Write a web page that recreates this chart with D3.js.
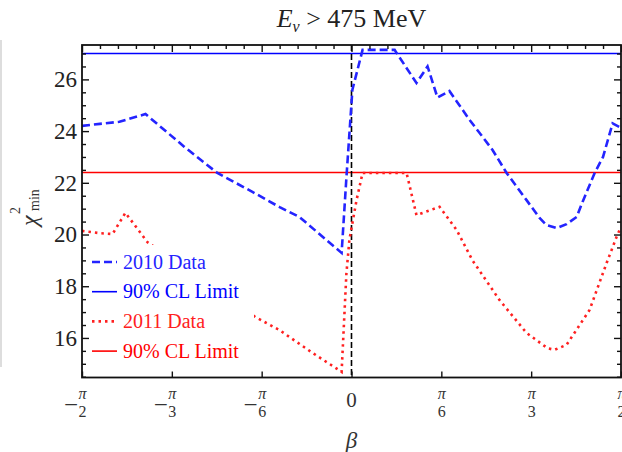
<!DOCTYPE html>
<html>
<head>
<meta charset="utf-8">
<script src="https://cdn.jsdelivr.net/npm/d3@7"></script>
<style>
  body { margin: 0; background: #fff; }
  svg { display: block; }
  text { font-family: "Liberation Serif", "DejaVu Serif", serif; }
</style>
</head>
<body>
<svg id="chart" width="622" height="452"></svg>
<script>
const beta2010 = [-90, -84, -77.5, -68.8, -55.8, -44.8, -33.1, -24.0, -17.4, -3.3, -1.7, -0.7, 0.3, 3.7, 14.4,
  21.7, 25.4, 28.7, 32.7, 39.4, 47.1, 51.8, 58.4, 62.8, 65.1, 68.5, 71.8, 75.2, 77.3, 81.2, 84.0, 87.2, 89.5, 90];
const chi2010 = [24.2, 24.28, 24.36, 24.66, 23.39, 22.38, 21.65, 21.06, 20.68, 19.29, 22.2, 23.9, 25.6, 27.14, 27.14,
  25.86, 26.5, 25.3, 25.55, 24.44, 23.27, 22.38, 21.34, 20.64, 20.37, 20.25, 20.4, 20.68, 21.3, 22.38, 23.0, 24.3, 24.16, 24.16];

const beta2011 = [-90, -84, -79.8, -75.5, -68.1, -32.1, -24.0, -13.0, -3.3, -1.7, -0.7, 1.7, 3.7, 18.4,
  21.7, 29.4, 32.7, 35.1, 40.4, 49.4, 58.4, 65.5, 67.8, 71.8, 79.5, 85.2, 88.5, 90];
const chi2011 = [20.14, 20.05, 20.02, 20.84, 19.7, 16.81, 16.3, 15.42, 14.69, 18.5, 19.8, 21.34, 22.38, 22.38,
  20.75, 21.07, 20.56, 20.18, 19.0, 17.47, 16.2, 15.6, 15.54, 15.73, 17.08, 18.9, 19.9, 20.3];

const cl2010 = 27.0;
const cl2011 = 22.4;

const yMajor = [16, 18, 20, 22, 24, 26];
const xMajor = [-90, -60, -30, 0, 30, 60, 90];
const xDenom = {30: '6', 60: '3', 90: '2'};

const legendItems = [
  {label: '2010 Data', color: '#2424ff', dash: '8,4', width: 2.6},
  {label: '90% CL Limit', color: '#0000ff', dash: null, width: 1.6},
  {label: '2011 Data', color: '#ff2020', dash: '2.5,4', width: 2.6},
  {label: '90% CL Limit', color: '#ff0000', dash: null, width: 1.6}
];

const svg = d3.select('#chart');
const x = d3.scaleLinear().domain([-90, 90]).range([82, 621]);
const y = d3.scaleLinear().domain([14.47, 27.33]).range([377.5, 45]);

// remnant of the neighbouring panel at the left edge
svg.append('line').attr('x1', 1).attr('x2', 1).attr('y1', 40).attr('y2', 367)
  .attr('stroke', '#bbb').attr('stroke-width', 1);

svg.append('clipPath').attr('id', 'plotclip').append('rect')
  .attr('x', x(-90)).attr('y', y(27.33)).attr('width', x(90) - x(-90)).attr('height', y(14.47) - y(27.33));

const plot = svg.append('g').attr('clip-path', 'url(#plotclip)');

// CL limits
plot.append('line').attr('x1', x(-90)).attr('x2', x(90)).attr('y1', y(cl2010)).attr('y2', y(cl2010))
  .attr('stroke', '#0000ff').attr('stroke-width', 1.6);
plot.append('line').attr('x1', x(-90)).attr('x2', x(90)).attr('y1', y(cl2011)).attr('y2', y(cl2011))
  .attr('stroke', '#ff0000').attr('stroke-width', 1.6);

// beta = 0 marker
plot.append('line').attr('x1', x(0)).attr('x2', x(0)).attr('y1', y(27.33)).attr('y2', y(14.47))
  .attr('stroke', '#000').attr('stroke-width', 1.6).attr('stroke-dasharray', '6,3');

const line = d3.line().x(d => x(d[0])).y(d => y(d[1]));

plot.append('path')
  .datum(d3.zip(beta2011, chi2011))
  .attr('d', line)
  .attr('fill', 'none').attr('stroke', '#ff2020').attr('stroke-width', 2.6)
  .attr('stroke-dasharray', '2.5,4');

plot.append('path')
  .datum(d3.zip(beta2010, chi2010))
  .attr('d', line)
  .attr('fill', 'none').attr('stroke', '#2424ff').attr('stroke-width', 2.6)
  .attr('stroke-dasharray', '8,4');

// legend (opaque)
const lg = svg.append('g');
lg.append('rect').attr('x', 86).attr('y', 245).attr('width', 168).attr('height', 122).attr('fill', '#fff');
legendItems.forEach((it, i) => {
  const yy = 262 + i * 29.7;
  lg.append('line').attr('x1', 92).attr('x2', 117).attr('y1', yy).attr('y2', yy)
    .attr('stroke', it.color).attr('stroke-width', it.width)
    .attr('stroke-dasharray', it.dash);
  lg.append('text').attr('x', 123).attr('y', yy + 6.5).attr('fill', it.color)
    .attr('font-size', 20).text(it.label);
});

// frame
svg.append('rect')
  .attr('x', x(-90)).attr('y', y(27.33)).attr('width', x(90) - x(-90)).attr('height', y(14.47) - y(27.33))
  .attr('fill', 'none').attr('stroke', '#111').attr('stroke-width', 1.8);

const yMinor = d3.range(14.5, 27.3, 0.5).filter(v => !yMajor.includes(v));
const xMinor = d3.range(-90, 91, 6).filter(v => !xMajor.includes(v));

function styleAxis(g) {
  g.select('.domain').remove();
  g.selectAll('line').attr('stroke', '#111').attr('stroke-width', 1.4);
}

// left axis with labels
svg.append('g').attr('transform', `translate(${x(-90)},0)`)
  .call(d3.axisLeft(y).tickValues(yMajor).tickSizeInner(-7).tickSizeOuter(0).tickPadding(5).tickFormat(d3.format('d')))
  .call(styleAxis)
  .call(g => g.selectAll('text').attr('font-size', 23).attr('fill', '#222')
    .attr('font-family', '"Liberation Serif", serif'));
svg.append('g').attr('transform', `translate(${x(-90)},0)`)
  .call(d3.axisLeft(y).tickValues(yMinor).tickSizeInner(-4).tickSizeOuter(0).tickFormat(''))
  .call(styleAxis);

// right axis
svg.append('g').attr('transform', `translate(${x(90)},0)`)
  .call(d3.axisRight(y).tickValues(yMajor).tickSizeInner(-7).tickSizeOuter(0).tickFormat(''))
  .call(styleAxis);
svg.append('g').attr('transform', `translate(${x(90)},0)`)
  .call(d3.axisRight(y).tickValues(yMinor).tickSizeInner(-4).tickSizeOuter(0).tickFormat(''))
  .call(styleAxis);

// bottom axis: majors only
svg.append('g').attr('transform', `translate(0,${y(14.47)})`)
  .call(d3.axisBottom(x).tickValues(xMajor).tickSizeInner(-6).tickSizeOuter(0).tickFormat(''))
  .call(styleAxis);

// top axis
svg.append('g').attr('transform', `translate(0,${y(27.33)})`)
  .call(d3.axisTop(x).tickValues(xMajor).tickSizeInner(-7).tickSizeOuter(0).tickFormat(''))
  .call(styleAxis);
svg.append('g').attr('transform', `translate(0,${y(27.33)})`)
  .call(d3.axisTop(x).tickValues(xMinor).tickSizeInner(-4).tickSizeOuter(0).tickFormat(''))
  .call(styleAxis);

// x tick labels as fractions of pi
const xl = svg.append('g').attr('fill', '#333');
xMajor.forEach(b => {
  const px = x(b);
  if (b === 0) {
    xl.append('text').attr('x', px).attr('y', 407).attr('text-anchor', 'middle')
      .attr('font-size', 21).text('0');
    return;
  }
  xl.append('text').attr('x', px + 0.5).attr('y', 399).attr('text-anchor', 'middle')
    .attr('font-size', 16).attr('font-style', 'italic').text('π');
  xl.append('text').attr('x', px + 0.5).attr('y', 417).attr('text-anchor', 'middle')
    .attr('font-size', 16).text(xDenom[Math.abs(b)]);
  if (b < 0) {
    xl.append('text').attr('x', px - 4).attr('y', 413).attr('text-anchor', 'end')
      .attr('font-size', 25).text('−');
  }
});

// axis titles
svg.append('text').attr('x', x(0)).attr('y', 448).attr('text-anchor', 'middle')
  .attr('font-size', 23).attr('font-style', 'italic').attr('fill', '#333').text('β');

const yl = svg.append('g').attr('transform', 'translate(37,205) rotate(-90)').attr('fill', '#333');
yl.append('text').attr('x', -21).attr('y', 0).attr('font-size', 24).attr('font-style', 'italic').text('χ');
yl.append('text').attr('x', -9).attr('y', -17).attr('font-size', 14).text('2');
yl.append('text').attr('x', -6).attr('y', 2).attr('font-size', 14).text('min');

// title
const title = svg.append('text').attr('x', x(0)).attr('y', 27).attr('text-anchor', 'middle')
  .attr('font-size', 26).attr('fill', '#222');
title.append('tspan').attr('font-style', 'italic').text('E');
title.append('tspan').attr('font-style', 'italic').attr('font-size', 16).attr('dy', 5).text('ν');
title.append('tspan').attr('dy', -5).text(' > 475 MeV');
</script>
</body>
</html>
